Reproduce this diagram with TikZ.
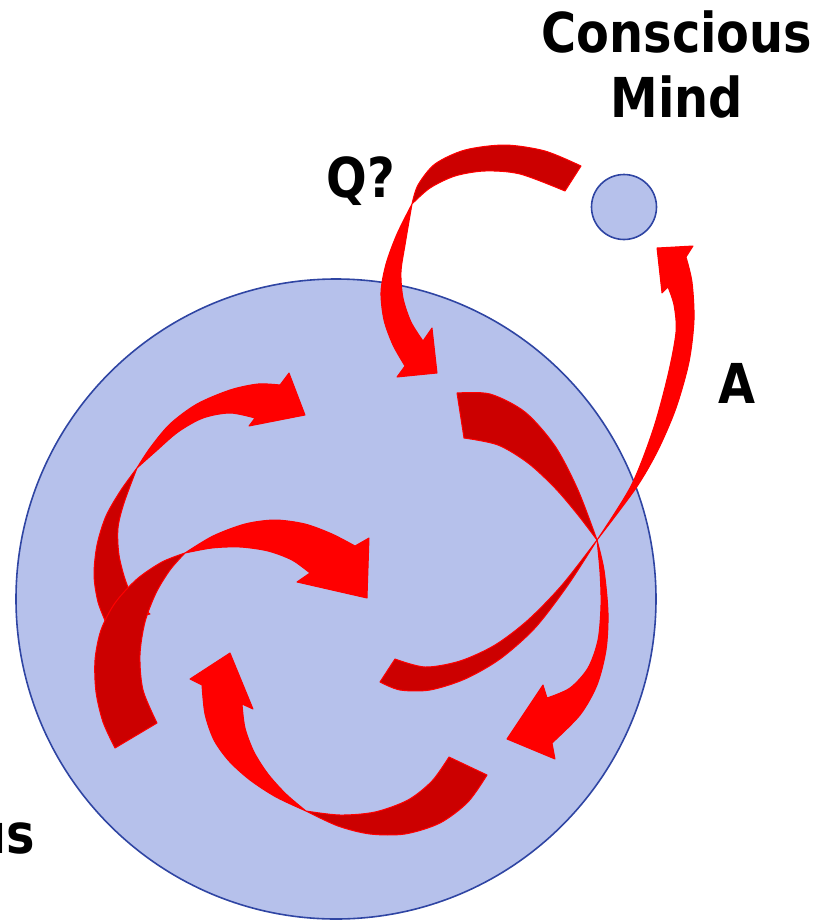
\documentclass[tikz,border=0pt]{standalone}
\usepackage{fontspec}
\newfontfamily\tahomalike{DejaVu Sans}[FakeStretch=0.87]

\definecolor{mindfill}{RGB}{182,193,235}
\definecolor{mindline}{RGB}{47,69,163}
\definecolor{backred}{RGB}{204,0,0}

\begin{document}
\begin{tikzpicture}[
    x=1pt, y=-1pt,
    mind/.style={circle,draw=mindline,line width=1.6pt,fill=mindfill,inner sep=0pt},
    bigtext/.style={font=\tahomalike\bfseries\fontsize{55}{65}\selectfont,inner sep=0pt},
    front/.style={fill=red,draw=red,line width=1pt,line join=round},
    back/.style={fill=backred,draw=red,line width=1pt,line join=round}
]
\useasboundingbox (0,0) rectangle (824,922);

% Kreise
\node[mind, minimum size=640pt] (sub) at (336,599) {};
\node[mind, minimum size=65pt] (mind) at (624,207) {};

% Beschriftung
\node[bigtext, align=center, anchor=north] (conscious) at (677,11) {Conscious\\Mind};
\node[bigtext, anchor=base] (question) at (361,197) {Q?};
\node[bigtext, anchor=base] (answer) at (737,403) {A};
\node[bigtext, anchor=base east] (depth) at (35,853) {us};

% Frage nach unten
\filldraw[back] plot[smooth] coordinates {(581,166) (545,151) (505,145) (465,150) (435,164) (418,185) (412,204)}
  -- plot[smooth] coordinates {(412,204) (430,188) (455,176) (485,171) (520,174) (565,191)} -- cycle;
\filldraw[front] plot[smooth] coordinates {(412,204) (397,234) (386,264) (381,292) (384,320) (393,345) (405,366)}
  -- (397,377) -- (437,373) -- (432,328) -- (423,341)
  -- plot[smooth] coordinates {(423,341) (411,322) (403,298) (401,272) (405,245) (412,204)} -- cycle;

% Bogen links oben
\filldraw[back] plot[smooth] coordinates {(137,468) (121,490) (106,516) (97,545) (94,575) (98,602) (107,625)}
  -- plot[smooth] coordinates {(150,614) (136,602) (126,582) (119,555) (118,528) (124,503) (137,468)} -- cycle;
\filldraw[front] plot[smooth] coordinates {(137,468) (150,448) (170,424) (197,404) (230,390) (258,384) (280,385)}
  -- (289,373) -- (305,415) -- (249,426) -- (255,418)
  -- plot[smooth] coordinates {(255,418) (230,413) (203,418) (178,432) (155,452) (137,468)} -- cycle;

% Bogen links Mitte
\filldraw[back] plot[smooth] coordinates {(115,748) (103,722) (96,692) (95,660) (101,630) (115,603) (137,579) (162,562) (185,553)}
  -- plot[smooth] coordinates {(185,553) (170,570) (156,593) (145,622) (140,655) (143,690) (157,723)} -- cycle;
\filldraw[front] plot[smooth] coordinates {(185,553) (213,536) (245,524) (275,520) (305,524) (332,534) (355,546)}
  -- (369,538) -- (367,598) -- (297,582) -- (310,573)
  -- plot[smooth] coordinates {(310,573) (292,560) (268,551) (240,547) (212,548) (185,553)} -- cycle;

% Bogen unten
\filldraw[back] plot[smooth] coordinates {(487,775) (468,802) (440,823) (405,834) (370,834) (338,826) (306,811)}
  -- plot[smooth] coordinates {(306,811) (340,815) (375,812) (408,800) (432,781) (449,757)} -- cycle;
\filldraw[front] plot[smooth] coordinates {(306,811) (276,797) (250,780) (229,761) (214,740) (205,714) (202,685)}
  -- (190,679) -- (230,653) -- (253,709) -- (242,704)
  -- plot[smooth] coordinates {(242,704) (245,728) (254,752) (268,774) (286,794) (306,811)} -- cycle;

% Bogen rechts
\filldraw[back] plot[smooth] coordinates {(457,393) (490,394) (525,412) (555,446) (578,490) (597,540)}
  -- plot[smooth] coordinates {(597,540) (578,515) (555,488) (528,463) (498,445) (464,438)} -- cycle;
\filldraw[front] plot[smooth] coordinates {(597,540) (604,570) (608,613) (606,650) (597,685) (580,715) (552,743)}
  -- (555,759) -- (507,739) -- (543,685) -- (547,698)
  -- plot[smooth] coordinates {(547,698) (570,688) (588,668) (598,640) (601,605) (600,572) (597,540)} -- cycle;

% Antwort nach oben
\filldraw[back] plot[smooth] coordinates {(395,659) (425,667) (460,661) (495,645) (528,620) (562,585) (597,540)}
  -- plot[smooth] coordinates {(597,540) (568,585) (535,628) (500,659) (465,679) (430,690) (400,690) (380,682)} -- cycle;
\filldraw[front] plot[smooth] coordinates {(597,540) (631,486) (653,430) (668,375) (676,332) (674,305) (668,287)}
  -- (662,293) -- (657,248) -- (693,246) -- (686,257)
  -- plot[smooth] coordinates {(686,257) (692,282) (694,320) (689,362) (676,408) (658,450) (636,488) (597,540)} -- cycle;

\end{tikzpicture}
\end{document}
